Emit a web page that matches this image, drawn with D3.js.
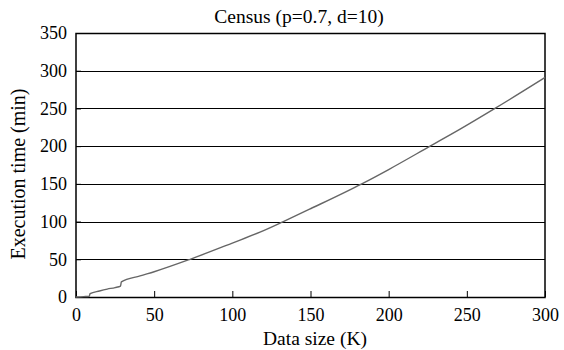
<!DOCTYPE html>
<html><head><meta charset="utf-8">
<script src="https://cdn.jsdelivr.net/npm/d3@7"></script>
<style>body{margin:0;background:#fff;}</style></head>
<body>
<svg id="c" width="564" height="350" font-family="Liberation Serif"></svg>
<script>
const title = "Census (p=0.7, d=10)";
const xLabel = "Data size (K)";
const yLabel = "Execution time (min)";
const xTicks = [0, 50, 100, 150, 200, 250, 300];
const yTicks = [0, 50, 100, 150, 200, 250, 300, 350];
const dataSize = [0, 5, 8.5, 9, 15, 20, 25, 28.5, 29, 41, 50, 73, 100, 117.7, 132.6, 150, 182.8, 200, 226.5, 245.7, 268, 300];
const execTime = [0, 0.5, 1, 4.5, 8, 10.5, 12.5, 14.5, 20, 28, 33.5, 50, 71.5, 86, 100, 117, 150, 169, 200, 222.5, 250, 291];

const FONT = "Liberation Serif";
const svg = d3.select("#c");
const m = {l:76, r:545, t:33, b:297};
const x = d3.scaleLinear().domain([0,300]).range([m.l, m.r]);
const y = d3.scaleLinear().domain([0,350]).range([m.b, m.t]);

svg.append("g").selectAll("line").data(yTicks.slice(1,-1)).join("line")
  .attr("x1", m.l).attr("x2", m.r)
  .attr("y1", d=>Math.round(y(d))+0.5).attr("y2", d=>Math.round(y(d))+0.5)
  .attr("stroke","#000").attr("stroke-width",1);

const xa = svg.append("g").attr("transform",`translate(0,${m.b})`)
  .call(d3.axisBottom(x).tickValues(xTicks).tickSizeInner(-6).tickSizeOuter(0).tickPadding(11));
xa.attr("font-family", FONT).attr("font-size", 18);
xa.select(".domain").remove();
xa.selectAll("text").style("font-family",FONT).style("font-size","18px").attr("fill","#000");
xa.selectAll("line").attr("stroke","#000");

const ya = svg.append("g").attr("transform",`translate(${m.l},0)`)
  .call(d3.axisLeft(y).tickValues(yTicks).tickSizeInner(-5).tickSizeOuter(0).tickPadding(9));
ya.attr("font-family", FONT).attr("font-size", 18);
ya.select(".domain").remove();
ya.selectAll("text").style("font-family",FONT).style("font-size","18px").attr("fill","#000");

svg.append("rect").attr("x",m.l).attr("y",m.t+0.5).attr("width",m.r-m.l).attr("height",m.b-m.t)
  .attr("fill","none").attr("stroke","#000").attr("stroke-width",1.5);

const pts = dataSize.map((d,i)=>[d, execTime[i]]);
svg.append("path").datum(pts)
  .attr("d", d3.line().x(d=>x(d[0])).y(d=>y(d[1])).curve(d3.curveMonotoneX))
  .attr("fill","none").attr("stroke","#666").attr("stroke-width",1.4);

svg.append("text").attr("x",299).attr("y",23).attr("text-anchor","middle")
  .style("font-size","19.5px").style("font-family",FONT).text(title);
svg.append("text").attr("x",315).attr("y",345).attr("text-anchor","middle")
  .style("font-size","19.5px").style("font-family",FONT).text(xLabel);
svg.append("text").attr("transform",`translate(25,174) rotate(-90)`).attr("text-anchor","middle")
  .style("font-size","20px").style("font-family",FONT).text(yLabel);
</script>
</body></html>
